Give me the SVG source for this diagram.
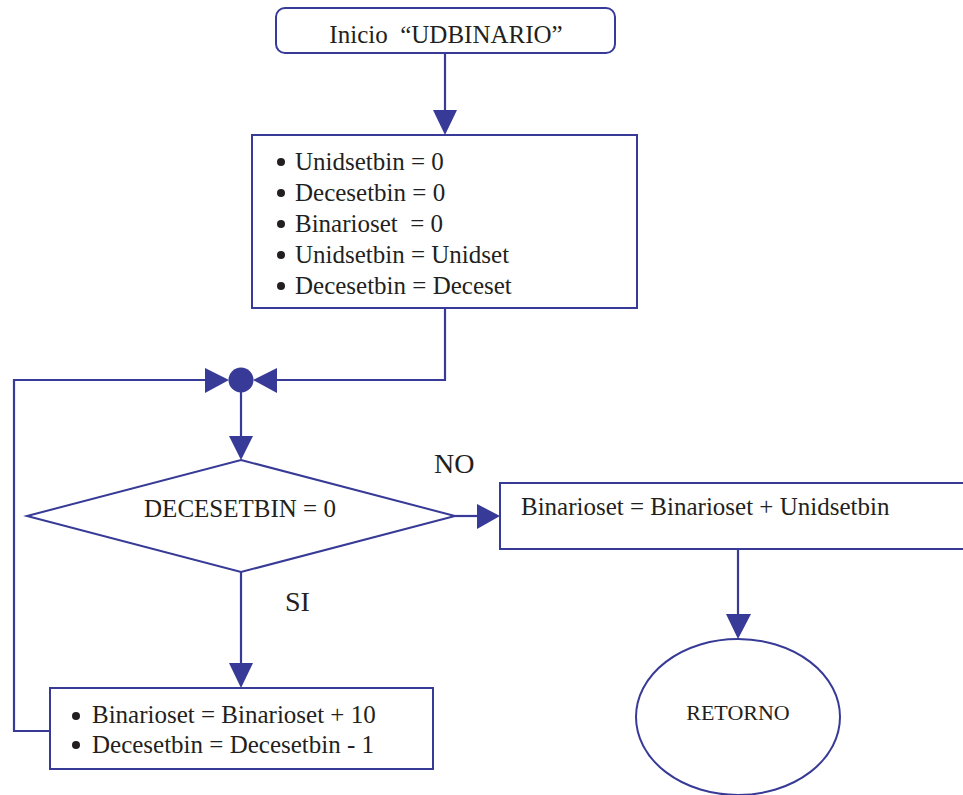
<svg xmlns="http://www.w3.org/2000/svg" width="963" height="795" viewBox="0 0 963 795">
  <defs>
    <style>
      .shape { fill: #ffffff; stroke: #373a96; stroke-width: 2; }
      .line { fill: none; stroke: #373a96; stroke-width: 2.2; }
      .head { fill: #373a96; }
      .txt { font-family: "Liberation Serif", "Times New Roman", serif; font-size: 25px; fill: #231f20; }
      .dot { fill: #231f20; }
    </style>
  </defs>

  <rect width="963" height="795" fill="#ffffff"/>

  <!-- connectors -->
  <g id="connectors">
    <!-- start -> init -->
    <line class="line" x1="445" y1="53" x2="445" y2="112"/>
    <polygon class="head" points="433,110 457,110 445,135"/>
    <!-- init -> junction -->
    <polyline class="line" points="445,309 445,380 275,380"/>
    <polygon class="head" points="277,368 277,393 253,380"/>
    <!-- loop back from bottom box -> junction -->
    <polyline class="line" points="50,731 14,731 14,380 207,380"/>
    <polygon class="head" points="205,368 205,393 229,380"/>
    <!-- junction dot -->
    <circle class="head" cx="241" cy="380" r="12.5"/>
    <!-- junction -> decision -->
    <line class="line" x1="241" y1="392" x2="241" y2="438"/>
    <polygon class="head" points="229,436 253,436 241,460"/>
    <!-- decision NO -> right box -->
    <line class="line" x1="455" y1="516" x2="479" y2="516"/>
    <polygon class="head" points="477,504 477,529 500,516"/>
    <!-- decision SI -> bottom box -->
    <line class="line" x1="241" y1="572" x2="241" y2="665"/>
    <polygon class="head" points="229,663 253,663 241,688"/>
    <!-- right box -> return -->
    <line class="line" x1="738" y1="550" x2="738" y2="616"/>
    <polygon class="head" points="726,614 751,614 738,639"/>
    <!-- branch labels -->
    <text class="txt" x="434" y="473" style="font-size:28px">NO</text>
    <text class="txt" x="285" y="611" style="font-size:28px">SI</text>
  </g>

  <!-- start terminal -->
  <g id="inicio">
    <rect class="shape" x="276" y="8" width="339" height="45" rx="9" ry="9"/>
    <text class="txt" x="446" y="43" text-anchor="middle" xml:space="preserve">Inicio  “UDBINARIO”</text>
  </g>

  <!-- initialisation block -->
  <g id="inicializacion">
    <rect class="shape" x="252" y="135" width="385" height="173"/>
    <circle class="dot" cx="281" cy="162" r="4"/>
    <circle class="dot" cx="281" cy="193" r="4"/>
    <circle class="dot" cx="281" cy="224" r="4"/>
    <circle class="dot" cx="281" cy="255" r="4"/>
    <circle class="dot" cx="281" cy="286" r="4"/>
    <text class="txt" x="295" y="170">Unidsetbin = 0</text>
    <text class="txt" x="295" y="201">Decesetbin = 0</text>
    <text class="txt" x="295" y="232" xml:space="preserve">Binarioset  = 0</text>
    <text class="txt" x="295" y="263">Unidsetbin = Unidset</text>
    <text class="txt" x="295" y="294">Decesetbin = Deceset</text>
  </g>

  <!-- decision -->
  <g id="decision">
    <polygon class="shape" points="241,460 455,516 241,572 27,516"/>
    <text class="txt" x="240" y="517" text-anchor="middle">DECESETBIN = 0</text>
  </g>

  <!-- NO branch: accumulate units -->
  <g id="suma-unidades">
    <rect class="shape" x="500" y="483" width="480" height="66"/>
    <text class="txt" x="521" y="515">Binarioset = Binarioset + Unidsetbin</text>
  </g>

  <!-- SI branch: loop body -->
  <g id="suma-decenas">
    <rect class="shape" x="50" y="688" width="383" height="81"/>
    <circle class="dot" cx="76" cy="716" r="4"/>
    <circle class="dot" cx="76" cy="745" r="4"/>
    <text class="txt" x="92" y="723">Binarioset = Binarioset + 10</text>
    <text class="txt" x="92" y="753">Decesetbin = Decesetbin - 1</text>
  </g>

  <!-- return terminal -->
  <g id="retorno">
    <ellipse class="shape" cx="738" cy="717" rx="102" ry="78"/>
    <text class="txt" x="738" y="720" text-anchor="middle" style="font-size:22px">RETORNO</text>
  </g>
</svg>
